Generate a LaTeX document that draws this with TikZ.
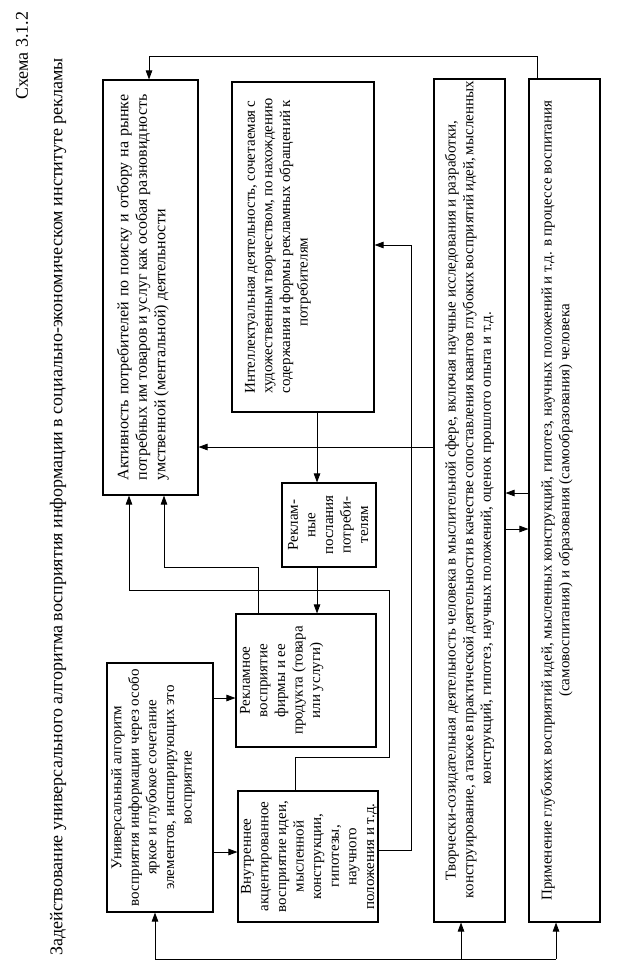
\documentclass[tikz,border=0pt]{standalone}
\usepackage{fontspec}
\setmainfont{Liberation Serif}
\usetikzlibrary{arrows.meta}
\newcommand{\jl}[1]{\makebox[\hsize][s]{#1}}
\newcommand{\bx}[4]{\parbox[c][#1][t]{#2}{\vspace*{#3}#4}}
\begin{document}
\begin{tikzpicture}[x=1pt,y=-1pt,
  box/.style={draw, line width=1.1pt, rotate=90, inner sep=0pt, font=\fontsize{15}{17.6}\selectfont},
  bigtext/.style={font=\fontsize{16}{18.5}\selectfont},
  arr/.style={line width=0.8pt, -{Triangle[length=9pt,width=6.5pt]}},
  ln/.style={line width=0.8pt},
  ttlfont/.style={font=\fontsize{18}{20}\selectfont}]
\useasboundingbox (0,0) rectangle (617,971);

\node[rotate=90, anchor=east, ttlfont] (sch) at (22,8) {Схема 3.1.2};
\node[rotate=90, ttlfont] (ttl) at (58,507) {Задействование универсального алгоритма восприятия информации в социально-экономическом институте рекламы};

\node[box, bigtext, minimum width=415pt, minimum height=95pt] (A) at (150.5,287.5)
 {\bx{95pt}{386pt}{14pt}{\raggedright \jl{Активность потребителей по поиску и отбору на рынке}\\ \jl{потребных им товаров и услуг как особая разновидность}\\ умственной (ментальной) деятельности}};

\node[box, minimum width=330pt, minimum height=142pt] (I) at (303,247)
 {\bx{142pt}{293pt}{13pt}{\centering \jl{Интеллектуальная деятельность, сочетаемая с}\\ \jl{художественным творчеством, по нахождению}\\ \jl{содержания и формы рекламных обращений к}\\ потребителям\hspace*{70pt}}};

\node[box, minimum width=84pt, minimum height=94pt] (R) at (329,525)
 {\bx{94pt}{80pt}{6pt}{\centering Реклам-\\ные\\послания\\потреби-\\телям}};

\node[box, minimum width=133pt, minimum height=140pt] (RV) at (306,680.5)
 {\bx{140pt}{127pt}{4pt}{\centering Рекламное\\восприятие\\фирмы и ее\\продукта (товара\\или услуги)}};

\node[box, minimum width=131pt, minimum height=140pt] (V) at (308,856.5)
 {\bx{140pt}{127pt}{3pt}{\centering Внутреннее\\акцентированное\\восприятие идеи,\\мысленной\\конструкции,\\гипотезы,\\научного\\положения и т.д.}};

\node[box, minimum width=249pt, minimum height=106pt] (U) at (160,787.5)
 {\bx{106pt}{240pt}{4pt}{\centering Универсальный алгоритм\\восприятия информации через особо\\яркое и глубокое сочетание\\элементов, инспирирующих это\\восприятие}};

\node[box, minimum width=843pt, minimum height=71pt] (T) at (469.5,500.5)
 {\bx{71pt}{795pt}{11pt}{\centering Творчески-созидательная деятельность человека в мыслительной сфере, включая научные исследования и разработки,\\ \jl{конструирование, а также в практической деятельности в качестве сопоставления квантов глубоких восприятий идей, мысленных}\\ конструкций, гипотез, научных положений, оценок прошлого опыта и т.д.\hspace*{96pt}}};

\node[box, minimum width=843pt, minimum height=71pt] (P) at (564.5,500.5)
 {\bx{71pt}{800pt}{12pt}{\centering Применение глубоких восприятий идей, мысленных конструкций, гипотез, научных положений и т.д. в процессе воспитания\\(самовоспитания) и образования (самообразования) человека}};

% connectors
\draw[arr] (537,0 |- P.east) |- (149,56) -- (149,0 |- A.east);
\draw[arr] (317,0 |- I.west) -- (317,0 |- R.east);
\draw[arr] (317,0 |- R.west) -- (317,0 |- RV.east);
\draw[arr] (T.north |- 0,447) -- (A.south |- 0,447);
\draw[arr] (V.south |- 0,850) -| (411,245) -- (I.south |- 0,245);
\draw[arr] (258,0 |- RV.east) |- (164,567) -- (164,0 |- A.west);
\draw[arr] (295,0 |- V.east) |- (389,757) |- (129,590) -- (129,0 |- A.west);
\draw[arr] (U.south |- 0,698) -- (RV.north |- 0,698);
\draw[arr] (U.south |- 0,852) -- (V.north |- 0,852);
\coordinate (bl) at (155,959);
\coordinate (bm) at (461,959);
\coordinate (br) at (556,959);
\draw[ln] (bl) -- (br);
\draw[arr] (bl) -- (bl |- U.west);
\draw[arr] (bm) -- (bm |- T.west);
\draw[arr] (br) -- (br |- P.west);
\draw[arr] (P.north |- 0,493) -- (T.south |- 0,493);
\draw[arr] (T.south |- 0,529) -- (P.north |- 0,529);
\end{tikzpicture}
\end{document}
